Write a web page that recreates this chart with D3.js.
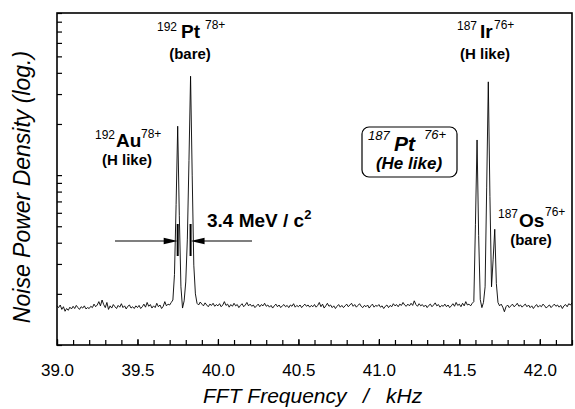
<!DOCTYPE html>
<html>
<head>
<meta charset="utf-8">
<script src="https://cdn.jsdelivr.net/npm/d3@7/dist/d3.min.js"></script>
<style>
  html, body { margin: 0; padding: 0; background: #fff; }
  svg { display: block; }
  text { font-family: "Liberation Sans", Arial, Helvetica, sans-serif; fill: #000; }
</style>
</head>
<body>
<svg id="chart" width="575" height="409"></svg>
<script>
// FFT noise power spectrum, one sample per frequency bin
const freqStart = 39.00;   // kHz, first bin
const freqStep = 0.01;     // kHz per bin
const psd = [
  1.70, 1.66, 1.72, 1.62, 1.68, 1.58, 1.64, 1.60, 1.67, 1.63,
  1.69, 1.64, 1.71, 1.66, 1.62, 1.68, 1.65, 1.70, 1.63, 1.66,
  1.64, 1.69, 1.66, 1.74, 1.68, 1.72, 1.80, 1.70, 1.84, 1.73,
  1.66, 1.78, 1.62, 1.70, 1.65, 1.73, 1.68, 1.64, 1.71, 1.67,
  1.75, 1.66, 1.70, 1.63, 1.69, 1.72, 1.65, 1.68, 1.64, 1.70,
  1.66, 1.71, 1.64, 1.68, 1.74, 1.67, 1.78, 1.69, 1.73, 1.65,
  1.70, 1.66, 1.76, 1.68, 1.72, 1.64, 1.69, 1.80, 1.70, 1.74,
  1.72, 1.78, 1.84, 2.60, 6.70, 19.4, 5.80, 2.20, 1.65, 1.82,
  2.35, 4.20, 12.2, 38.2, 10.0, 2.95, 2.00, 1.76, 1.72, 1.79,
  1.74, 1.70, 1.77, 1.72, 1.68, 1.74, 1.71, 1.76, 1.69, 1.73,
  1.70, 1.75, 1.68, 1.72, 1.80, 1.71, 1.74, 1.67, 1.73, 1.69,
  1.76, 1.70, 1.73, 1.66, 1.71, 1.75, 1.68, 1.72, 1.78, 1.70,
  1.74, 1.69, 1.72, 1.66, 1.70, 1.74, 1.68, 1.73, 1.70, 1.76,
  1.69, 1.72, 1.67, 1.71, 1.65, 1.70, 1.74, 1.68, 1.72, 1.66,
  1.70, 1.73, 1.68, 1.71, 1.66, 1.72, 1.69, 1.75, 1.67, 1.71,
  1.68, 1.72, 1.66, 1.70, 1.74, 1.69, 1.72, 1.67, 1.71, 1.68,
  1.73, 1.67, 1.71, 1.78, 1.68, 1.74, 1.65, 1.70, 1.76, 1.69,
  1.72, 1.66, 1.70, 1.64, 1.69, 1.73, 1.67, 1.71, 1.66, 1.70,
  1.74, 1.68, 1.72, 1.76, 1.69, 1.73, 1.67, 1.71, 1.75, 1.69,
  1.66, 1.71, 1.68, 1.72, 1.65, 1.70, 1.74, 1.67, 1.71, 1.69,
  1.73, 1.67, 1.70, 1.64, 1.69, 1.72, 1.66, 1.71, 1.68, 1.75,
  1.70, 1.73, 1.68, 1.74, 1.71, 1.78, 1.72, 1.69, 1.74, 1.70,
  1.76, 1.71, 1.82, 1.73, 1.69, 1.75, 1.70, 1.73, 1.68, 1.72,
  1.66, 1.71, 1.74, 1.68, 1.72, 1.77, 1.70, 1.73, 1.67, 1.71,
  1.69, 1.74, 1.68, 1.72, 1.66, 1.70, 1.75, 1.69, 1.78, 1.71,
  1.74, 1.68, 1.76, 1.70, 1.80, 1.72, 1.74, 1.70, 1.76, 1.80,
  5.10, 16.1, 4.40, 1.85, 1.66, 1.78, 2.20, 8.50, 35.4, 7.50,
  2.20, 3.20, 4.80, 2.30, 1.78, 1.70, 1.74, 1.67, 1.57, 1.68,
  1.72, 1.66, 1.70, 1.74, 1.68, 1.71, 1.76, 1.69, 1.72, 1.67,
  1.71, 1.74, 1.68, 1.72, 1.66, 1.70, 1.64, 1.69, 1.73, 1.67,
  1.71, 1.68, 1.74, 1.70, 1.65, 1.69, 1.72, 1.66, 1.70, 1.74,
  1.69, 1.72, 1.67, 1.71, 1.64, 1.70, 1.73, 1.68, 1.75, 1.72, 1.77
];

// Axis ranges and ticks
const freqDomain = [39.0, 42.2];
const psdDomain = [1, 90];
const xMajorTicks = [39.0, 39.5, 40.0, 40.5, 41.0, 41.5, 42.0];
const xTickLabels = ["39.0", "39.5", "40.0", "40.5", "41.0", "41.5", "42.0"];
const yLogTicks = [1, 2, 3, 4, 5, 6, 7, 8, 9, 10, 20, 30, 40, 50, 60, 70, 80, 90];

// Mass doublet marked by the arrows (kHz)
const doubletFreqs = [39.75, 39.83];

const svg = d3.select("#chart");
const margin = { left: 57, top: 13, right: 3, bottom: 64 };
const W = 575, H = 409;
const x = d3.scaleLinear().domain(freqDomain).range([margin.left, W - margin.right]);
const y = d3.scaleLog().domain(psdDomain).range([H - margin.bottom, margin.top]);

const points = psd.map((v, i) => [freqStart + i * freqStep, v]);

// Spectrum trace
svg.append("path")
  .datum(points)
  .attr("fill", "none")
  .attr("stroke", "#000")
  .attr("stroke-width", 0.9)
  .attr("stroke-linejoin", "round")
  .attr("d", d3.line().x(d => x(d[0])).y(d => y(d[1])));

// Bottom axis: minor ticks every 0.1 kHz, labelled ticks every 0.5 kHz
const minorTicks = d3.range(39.0, 42.21, 0.1).map(v => +v.toFixed(1));
svg.append("g")
  .attr("transform", `translate(0,${H - margin.bottom})`)
  .call(d3.axisBottom(x).tickValues(minorTicks).tickSize(-5).tickFormat(""))
  .call(g => g.select(".domain").remove())
  .call(g => g.selectAll("line").attr("stroke-width", 1.2));

svg.append("g")
  .attr("transform", `translate(0,${H - margin.bottom})`)
  .call(d3.axisBottom(x).tickValues(xMajorTicks).tickSize(-6).tickPadding(0)
    .tickFormat((d, i) => xTickLabels[i]))
  .call(g => g.select(".domain").remove())
  .call(g => g.selectAll("line").attr("stroke-width", 1.2))
  .call(g => g.selectAll("text")
    .attr("y", 31).attr("dy", null)
    .style("font-size", "17px")
    .style("font-family", "'Liberation Sans', Arial, sans-serif"));

// Left axis: log minor ticks, no labels
svg.append("g")
  .attr("transform", `translate(${margin.left},0)`)
  .call(d3.axisLeft(y).tickValues(yLogTicks).tickSize(-5).tickFormat(""))
  .call(g => g.select(".domain").remove())
  .call(g => g.selectAll("line").attr("stroke-width", 1.2));

// Plot frame
svg.append("rect")
  .attr("x", margin.left).attr("y", margin.top)
  .attr("width", W - margin.left - margin.right)
  .attr("height", H - margin.bottom - margin.top)
  .attr("fill", "none").attr("stroke", "#000").attr("stroke-width", 1.6);

// Axis titles
const xTitle = [["FFT Frequency", 203, "start"], ["/", 366, "middle"], ["kHz", 386, "start"]];
xTitle.forEach(([s, px, anchor]) => {
  svg.append("text")
    .attr("x", px).attr("y", 403)
    .attr("text-anchor", anchor)
    .style("font-size", "21px").style("font-style", "italic")
    .text(s);
});

svg.append("text")
  .attr("transform", "translate(30,187) rotate(-90)")
  .attr("text-anchor", "middle")
  .style("font-size", "23px").style("font-style", "italic")
  .text("Noise Power Density (log.)");

// Ion labels: each part is [text, x, baseline, size, bold]
function ionLabel(parts, opts = {}) {
  const t = svg.append("text");
  if (opts.italic) t.style("font-style", "italic");
  parts.forEach(p => {
    t.append("tspan")
      .attr("x", p[1]).attr("y", p[2])
      .style("font-size", p[3] + "px")
      .style("font-weight", p[4] ? "bold" : "normal")
      .text(p[0]);
  });
  return t;
}
function caption(str, cx, by, size, opts = {}) {
  svg.append("text")
    .attr("x", cx).attr("y", by)
    .attr("text-anchor", "middle")
    .style("font-size", size + "px")
    .style("font-weight", "bold")
    .style("font-style", opts.italic ? "italic" : "normal")
    .text(str);
}

ionLabel([["192", 157, 31, 12, false], ["Pt", 181, 38, 19, true], ["78+", 205, 29, 12, false]]);
caption("(bare)", 190, 59, 15);

ionLabel([["192", 95, 139, 12, false], ["Au", 116, 147, 19, true], ["78+", 141, 138, 12, false]]);
caption("(H like)", 127, 165, 15);

ionLabel([["187", 457, 30, 12, false], ["Ir", 480, 38, 19, true], ["76+", 494, 29, 12, false]]);
caption("(H like)", 485, 59, 15);

ionLabel([["187", 498, 218, 12, false], ["Os", 519, 227, 19, true], ["76+", 545, 216, 12, false]]);
caption("(bare)", 531, 245, 15);

// Boxed He-like label
svg.append("rect")
  .attr("x", 362).attr("y", 127).attr("width", 95).attr("height", 50)
  .attr("rx", 7).attr("ry", 7)
  .attr("fill", "#fff").attr("stroke", "#000").attr("stroke-width", 1.2);
ionLabel([["187", 368, 140, 13, false], ["Pt", 394, 151, 21, true], ["76+", 424, 139, 13, false]], { italic: true });
caption("(He like)", 409, 169, 17, { italic: true });

// Mass-difference annotation
const mdText = svg.append("text").attr("x", 207).attr("y", 227)
  .style("font-size", "19px").style("font-weight", "bold");
mdText.append("tspan").text("3.4 MeV / c");
mdText.append("tspan").attr("dy", -8).style("font-size", "13px").text("2");

// Arrows pointing at the two peaks
const arrowY = 241;
const xa = x(doubletFreqs[0]), xb = x(doubletFreqs[1]);
svg.append("line").attr("x1", 115).attr("x2", xa - 12).attr("y1", arrowY).attr("y2", arrowY)
  .attr("stroke", "#000").attr("stroke-width", 1.2);
svg.append("path")
  .attr("d", `M${xa},${arrowY} L${xa - 14},${arrowY - 3.2} L${xa - 14},${arrowY + 3.2} Z`)
  .attr("fill", "#000");
svg.append("line").attr("x1", 252).attr("x2", xb + 12).attr("y1", arrowY).attr("y2", arrowY)
  .attr("stroke", "#000").attr("stroke-width", 1.2);
svg.append("path")
  .attr("d", `M${xb},${arrowY} L${xb + 14},${arrowY - 3.2} L${xb + 14},${arrowY + 3.2} Z`)
  .attr("fill", "#000");
[xa, xb].forEach(px => {
  svg.append("line").attr("x1", px).attr("x2", px).attr("y1", 224).attr("y2", 256)
    .attr("stroke", "#000").attr("stroke-width", 2);
});
</script>
</body>
</html>
